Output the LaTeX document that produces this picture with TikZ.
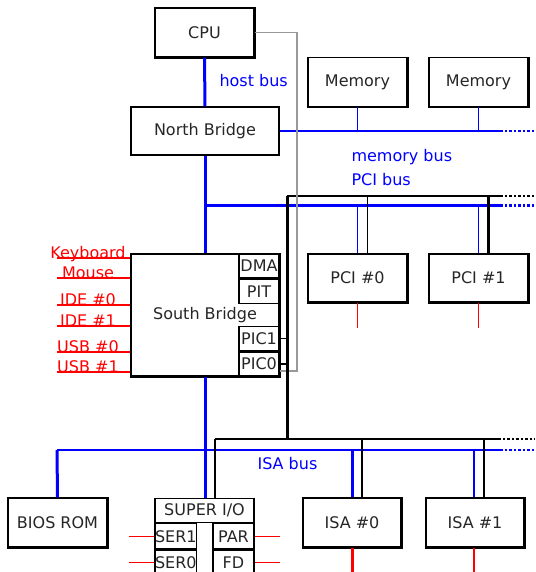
\documentclass[tikz,border=0pt]{standalone}
\usepackage{fontspec}
\setmainfont{DejaVu Sans}
\usetikzlibrary{calc}

\begin{document}
\begin{tikzpicture}[x=1pt, y=-1pt, font=\fontsize{16}{18}\selectfont,
  box/.style={draw, line width=1.2pt, fill=white, text=black!85, inner sep=0pt, minimum width=99pt, minimum height=49pt},
  subbox/.style={draw, line width=1.2pt, fill=white, text=black!85, inner sep=0pt, minimum width=40pt, minimum height=24pt},
  bus/.style={blue, line width=1.5pt},
  bigbus/.style={blue, line width=3pt},
  ctrl/.style={black, line width=1.3pt},
  bigctrl/.style={black, line width=3pt},
  ext/.style={red, line width=1.5pt},
  more/.style={dash pattern=on 2.5pt off 2pt},
  buslbl/.style={blue, anchor=west}]
\useasboundingbox (0,0) rectangle (535,572);
\def\dx{35}

% boxes
\node[box] (CPU) at (204.5,32.5) {CPU};
\node[box, minimum width=148pt, minimum height=48pt] (NB) at (205,131) {North Bridge};
\node[box] (mem0) at (357.5,82) {Memory};
\node[box] (mem1) at (478.5,82) {Memory};
\node[box, minimum height=48pt] (PCI0) at (357.5,278) {PCI \#0};
\node[box, minimum height=48pt] (PCI1) at (478.5,278) {PCI \#1};
\node[box, minimum width=148pt, minimum height=122pt] (SB) at (205,315) {South Bridge};
\node[subbox, anchor=north east] (DMA) at (SB.north east) {DMA};
\node[subbox, anchor=north] (PIT) at (DMA.south) {PIT};
\node[subbox, anchor=south east] (PIC0) at (SB.south east) {PIC0};
\node[subbox, anchor=south] (PIC1) at (PIC0.north) {PIC1};
\node[box] (BIOS) at (57.5,522.5) {BIOS ROM};
\node[box, minimum width=98pt] (ISA0) at (352,522.5) {ISA \#0};
\node[box, minimum width=98pt] (ISA1) at (475,522.5) {ISA \#1};
\node[box, anchor=north, minimum height=90pt] (SIO) at (204.5,498) {};
\node[subbox, anchor=north, minimum width=99pt] (SIOtop) at (SIO.north) {SUPER I/O};
\node[subbox, anchor=north west, minimum width=41pt, minimum height=25pt] (SER1) at (SIOtop.south west) {SER1};
\node[subbox, anchor=north, minimum width=41pt, minimum height=25pt] (SER0) at (SER1.south) {SER0};
\node[subbox, anchor=north east, minimum width=41pt, minimum height=25pt] (PAR) at (SIOtop.south east) {PAR};
\node[subbox, anchor=north, minimum width=41pt, minimum height=25pt] (FD) at (PAR.south) {FD};

\foreach \n in {CPU,mem0,mem1,PCI0,PCI1,SB,BIOS,ISA0,ISA1}
  \draw[line width=2.5pt] (\n.north east) -- (\n.south east) -- (\n.south west);

% bus ends
\coordinate (memend) at (500,131);
\coordinate (pcibl) at (205,205);
\coordinate (pciend) at (500,205);
\coordinate (pcictl) at (287,196);
\coordinate (pcictlend) at (500,196);
\coordinate (isactl) at (215,439);
\coordinate (isactlend) at (498,439);
\coordinate (isabl) at (57,450);
\coordinate (isaend) at (500,450);
\coordinate (irq) at (297,371);

% host, memory and PCI
\draw[bigbus] (CPU.south) -- (NB.north);
\draw[bigbus] (NB.south) -- (SB.north);
\draw[bus] (NB.east) -- (memend);
\draw[bus, more] (memend) -- ++(\dx,0);
\draw[bus] (mem0.south) -- (mem0.south |- memend);
\draw[bus] (mem1.south) -- (mem1.south |- memend);
\draw[bigbus] (pcibl) -- (pciend);
\draw[bigbus, more] (pciend) -- ++(\dx,0);
\draw[ctrl] (pcictl) -- (pcictlend);
\draw[ctrl, more] (pcictlend) -- ++(\dx,0);
\draw[bus] (PCI0.north) -- (PCI0.north |- pciend);
\draw[ctrl] ([xshift=10pt]PCI0.north) -- ([xshift=10pt]PCI0.north |- pcictl);
\draw[bus] (PCI1.north) -- (PCI1.north |- pciend);
\draw[bigctrl] ([xshift=10pt]PCI1.north) -- ([xshift=10pt]PCI1.north |- pcictl);
\draw[ext] (PCI0.south) -- ++(0,25);
\draw[ext] (PCI1.south) -- ++(0,25);

% interrupt line
\draw[gray!80, line width=1.5pt] (CPU.east) -| (irq) -- (irq -| PIC0.east);
\draw[bigctrl] (pcictl) -- (pcictl |- isactl);
\draw[ctrl] (PIC1.east) -- (PIC1.east -| pcictl);
\draw[ctrl] (PIC0.east) -- (PIC0.east -| pcictl);

% ISA
\draw[ctrl] (isactl) -- (isactlend);
\draw[ctrl, more] (isactlend) -- ++(\dx+2,0);
\draw[bus] (isabl) -- (isaend);
\draw[bus, more] (isaend) -- ++(\dx,0);
\draw[bigbus] (SB.south) -- (SB.south |- SIO.north);
\draw[ctrl] (isactl) -- (isactl |- SIO.north);
\draw[bigbus] (isabl) -- (BIOS.north);
\draw[bigbus] (ISA0.north) -- (ISA0.north |- isabl);
\draw[ctrl] ([xshift=10pt]ISA0.north) -- ([xshift=10pt]ISA0.north |- isactl);
\draw[bus] ([xshift=-1pt]ISA1.north) -- ([xshift=-1pt]ISA1.north |- isabl);
\draw[ctrl] ([xshift=9pt]ISA1.north) -- ([xshift=9pt]ISA1.north |- isactl);
\draw[red, line width=3pt] (ISA0.south) -- ++(0,30);
\draw[red, line width=2pt] ([xshift=-1pt]ISA1.south) -- ++(0,30);

% super i/o ports
\foreach \p in {SER1,SER0}
  \draw[ext] (\p.west) -- ++(-25,0);
\foreach \p in {PAR,FD}
  \draw[ext] (\p.east) -- ++(25,0);

% south bridge ports
\foreach \nm/\y/\txt/\w in {kbd/258/Keyboard/2.5pt, mouse/278/Mouse/1.2pt,
    ide0/305/{IDE \#0}/2.5pt, ide1/326/{IDE \#1}/1.2pt,
    usb0/352/{USB \#0}/2.5pt, usb1/372/{USB \#1}/2.5pt}{
  \node[red, anchor=base, inner sep=0pt] (\nm) at (88,\y) {\txt};
  \draw[red, line width=\w] (SB.west |- \nm.base) -- ++(-73,0);
}

% bus labels
\node[buslbl] (hostlbl) at (216,81) {host bus};
\node[buslbl] (memlbl) at (348,157) {memory bus};
\node[buslbl] (pcilbl) at (348,180) {PCI bus};
\node[buslbl] (isalbl) at (254,464) {ISA bus};
\end{tikzpicture}
\end{document}
